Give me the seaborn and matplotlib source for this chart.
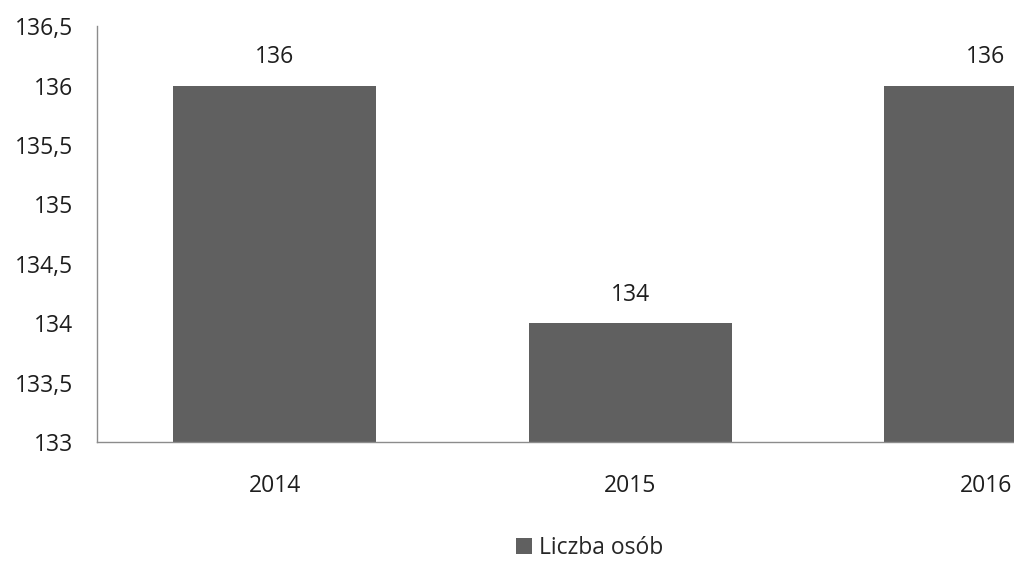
import matplotlib
matplotlib.use("Agg")
import matplotlib.pyplot as plt
import seaborn as sns
import pandas as pd
from matplotlib.patches import Patch

years = ["2014", "2015", "2016"]
values = [136, 134, 136]
series_name = "Liczba osób"
y_ticks = [133, 133.5, 134, 134.5, 135, 135.5, 136, 136.5]

sns.set_theme(style="white")
plt.rcParams['font.family'] = ['Open Sans', 'DejaVu Sans']

df = pd.DataFrame({"Rok": years, "Wartość": values})

fig = plt.figure(figsize=(10.14, 5.62), dpi=100)
ax = fig.add_axes([0.0954, 0.2135, 1.052, 0.740])

sns.barplot(data=df, x="Rok", y="Wartość", color="#606060", width=0.571,
            saturation=1, ax=ax)
for p in ax.patches:
    p.set_edgecolor("none")

ax.set_ylim(133, 136.5)
ax.set_xlim(-0.5, 2.5)
ax.set_yticks(y_ticks)
ax.set_yticklabels([f"{t:g}".replace(".", ",") for t in y_ticks])
ax.set_xlabel("")
ax.set_ylabel("")
ax.tick_params(axis="y", length=0, pad=17, labelsize=16.5, colors="#1e1e1e")
ax.tick_params(axis="x", length=0, pad=23, labelsize=16.5, colors="#1e1e1e")

for s in ["top", "right"]:
    ax.spines[s].set_visible(False)
for s in ["left", "bottom"]:
    ax.spines[s].set_color("#8c8c8c")
    ax.spines[s].set_linewidth(1.0)

for c in ax.containers:
    ax.bar_label(c, labels=[f"{v:g}" for v in values], padding=12,
                 fontsize=16.5, color="#1e1e1e")

handle = Patch(facecolor="#606060", edgecolor="none")
fig.legend([handle], [series_name], loc="center", bbox_to_anchor=(590/1014, 1-548/562),
           frameon=False, fontsize=16.5, handlelength=0.7, handleheight=0.7,
           handletextpad=0.3)

fig.savefig("out.png", dpi=100)
